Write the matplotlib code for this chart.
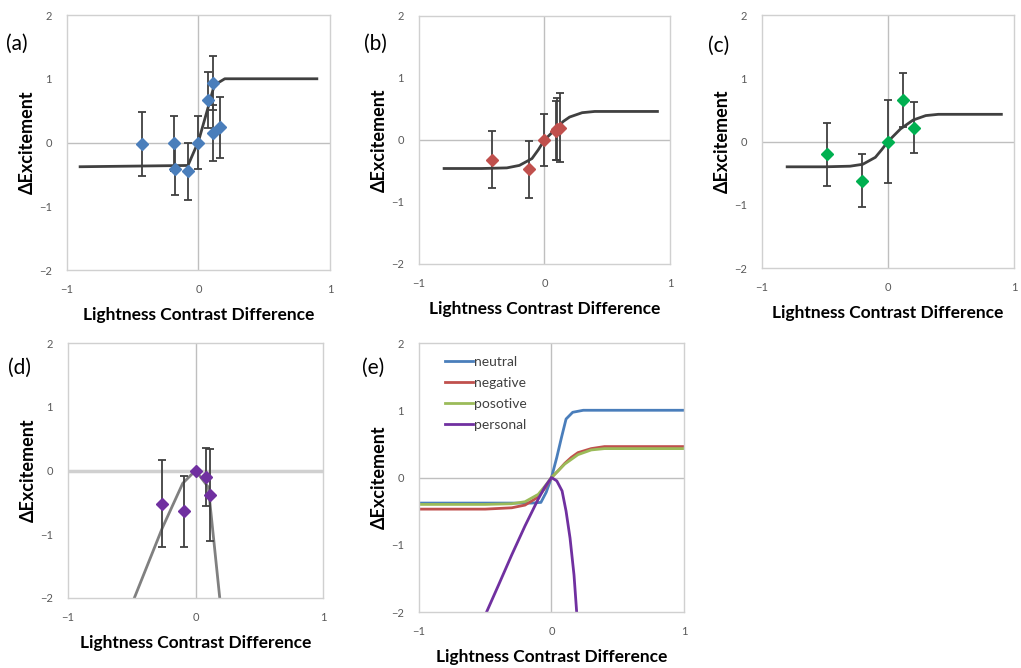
import matplotlib
matplotlib.use("Agg")
import matplotlib.pyplot as plt

plt.rcParams['font.family'] = ['Lato', 'DejaVu Sans']

# ---- data ----
# (a) neutral
a_x = [-0.43, -0.185, -0.18, -0.076, 0.0, 0.076, 0.114, 0.11, 0.165]
a_y = [-0.02, -0.01, -0.42, -0.45, 0.0, 0.66, 0.93, 0.15, 0.24]
a_err = [0.5, 0.43, 0.4, 0.45, 0.42, 0.44, 0.42, 0.44, 0.48]
a_fit_x = [-0.9, -0.08, 0.0, 0.08, 0.12, 0.2, 0.9]
a_fit_y = [-0.38, -0.36, 0.02, 0.6, 0.9, 1.0, 1.0]

# (b) negative
b_x = [-0.42, -0.12, 0.0, 0.09, 0.10, 0.12]
b_y = [-0.32, -0.47, 0.0, 0.15, 0.17, 0.2]
b_err = [0.46, 0.46, 0.42, 0.48, 0.5, 0.56]
b_fit_x = [-0.8, -0.5, -0.3, -0.2, -0.1, -0.05, 0.0, 0.05, 0.1, 0.15, 0.2, 0.3, 0.4, 0.6, 0.9]
b_fit_y = [-0.46, -0.46, -0.45, -0.41, -0.3, -0.16, 0.0, 0.1, 0.2, 0.3, 0.37, 0.44, 0.46, 0.46, 0.46]

# (c) positive
c_x = [-0.48, -0.21, 0.0, 0.12, 0.21]
c_y = [-0.2, -0.62, 0.0, 0.66, 0.22]
c_err = [0.5, 0.42, 0.66, 0.43, 0.4]
c_fit_x = [-0.8, -0.5, -0.3, -0.2, -0.1, -0.05, 0.0, 0.05, 0.1, 0.15, 0.2, 0.3, 0.4, 0.6, 0.9]
c_fit_y = [-0.4, -0.4, -0.39, -0.36, -0.25, -0.13, 0.0, 0.1, 0.2, 0.27, 0.34, 0.41, 0.43, 0.43, 0.43]

# (d) personal
d_x = [-0.26, -0.094, 0.0, 0.084, 0.11]
d_y = [-0.52, -0.64, 0.0, -0.1, -0.38]
d_err = [0.68, 0.56, 0.0, 0.45, 0.72]
d_fit_x = [-0.48, -0.26, -0.1, 0.0, 0.1, 0.19]
d_fit_y = [-2.0, -0.9, -0.2, 0.0, -0.26, -2.0]

# (e) fitted curves together
e_names = ['neutral', 'negative', 'posotive', 'personal']
e_neutral_x = [-1.0, -0.5, -0.15, -0.08, -0.04, 0.0, 0.04, 0.076, 0.11, 0.16, 0.24, 0.5, 1.0]
e_neutral_y = [-0.38, -0.38, -0.38, -0.37, -0.22, 0.0, 0.3, 0.6, 0.87, 0.97, 1.0, 1.0, 1.0]
e_negative_x = [-1.0, -0.5, -0.3, -0.2, -0.1, -0.05, 0.0, 0.05, 0.1, 0.15, 0.2, 0.3, 0.4, 0.6, 1.0]
e_negative_y = [-0.47, -0.47, -0.45, -0.41, -0.29, -0.16, 0.0, 0.1, 0.21, 0.3, 0.37, 0.43, 0.46, 0.46, 0.46]
e_positive_x = [-1.0, -0.5, -0.3, -0.2, -0.1, -0.05, 0.0, 0.05, 0.1, 0.15, 0.2, 0.3, 0.4, 0.6, 1.0]
e_positive_y = [-0.4, -0.4, -0.39, -0.36, -0.25, -0.13, 0.0, 0.1, 0.2, 0.27, 0.34, 0.41, 0.43, 0.43, 0.43]
e_personal_x = [-0.49, -0.4, -0.3, -0.2, -0.1, -0.05, 0.0, 0.04, 0.08, 0.11, 0.14, 0.17, 0.19]
e_personal_y = [-2.0, -1.6, -1.15, -0.72, -0.32, -0.14, 0.0, -0.05, -0.2, -0.5, -0.9, -1.45, -2.0]

x_ticks = [-1, 0, 1]
y_ticks = [-2, -1, 0, 1, 2]

GRID = '#bfbfbf'
TICK = '#595959'
ERR = '#404040'

fig = plt.figure(figsize=(10.21, 6.68), dpi=100)


def style(ax, zero_lw=1.0, zero_col=GRID):
    ax.set_xlim(-1, 1)
    ax.set_ylim(-2, 2)
    ax.set_xticks(x_ticks)
    ax.set_yticks(y_ticks)
    ax.tick_params(length=0, labelsize=8, labelcolor=TICK)
    ax.tick_params(axis='y', pad=11)
    ax.tick_params(axis='x', pad=10)
    for s in ax.spines.values():
        s.set_color('#d0d0d0')
        s.set_linewidth(1.0)
    ax.axhline(0, color=zero_col, lw=zero_lw, zorder=1)
    ax.axvline(0, color=GRID, lw=1.0, zorder=1)
    ax.set_xlabel('Lightness Contrast Difference', fontsize=12.5, fontweight='bold', labelpad=9)
    ax.set_ylabel('\u0394Excitement', fontsize=13, fontweight='bold', labelpad=2)


def panel(rect, label, lx, ly, px, py, perr, fx, fy, col, fitcol='#404040', **kw):
    ax = fig.add_axes(rect)
    style(ax, **kw)
    ax.plot(fx, fy, color=fitcol, lw=2, zorder=2, clip_on=True)
    ax.errorbar(px, py, yerr=perr, fmt='D', color=col, ms=6, mec=col,
                ecolor=ERR, elinewidth=1.3, capsize=3, capthick=1.3, zorder=3)
    fig.text(lx, ly, label, fontsize=15, ha='left', va='center')
    return ax


panel([0.0656, 0.5958, 0.2576, 0.3817], '(a)', 0.006, 0.935,
      a_x, a_y, a_err, a_fit_x, a_fit_y, '#4a7ebb')
panel([0.4104, 0.6048, 0.2458, 0.3713], '(b)', 0.357, 0.935,
      b_x, b_y, b_err, b_fit_x, b_fit_y, '#c0504d')
panel([0.7463, 0.5988, 0.2468, 0.3787], '(c)', 0.693, 0.932,
      c_x, c_y, c_err, c_fit_x, c_fit_y, '#00b050')
panel([0.0666, 0.1048, 0.2498, 0.3817], '(d)', 0.008, 0.45,
      d_x, d_y, d_err, d_fit_x, d_fit_y, '#7030a0', fitcol='#808080',
      zero_lw=2.5, zero_col='#d0d0d0')

ax = fig.add_axes([0.4104, 0.0838, 0.2595, 0.4027])
style(ax)
ax.plot(e_neutral_x, e_neutral_y, color='#4a7ebb', lw=2, label=e_names[0])
ax.plot(e_negative_x, e_negative_y, color='#c0504d', lw=2, label=e_names[1])
ax.plot(e_positive_x, e_positive_y, color='#9bbb59', lw=2, label=e_names[2])
ax.plot(e_personal_x, e_personal_y, color='#7030a0', lw=2, label=e_names[3])
leg = ax.legend(loc='upper left', bbox_to_anchor=(0.05, 1.0), frameon=False, fontsize=10,
                handlelength=2.0, handletextpad=0.1, labelspacing=0.65)
for t in leg.get_texts():
    t.set_color('#404040')
fig.text(0.355, 0.45, '(e)', fontsize=15, ha='left', va='center')

fig.savefig('out.png', dpi=100)
